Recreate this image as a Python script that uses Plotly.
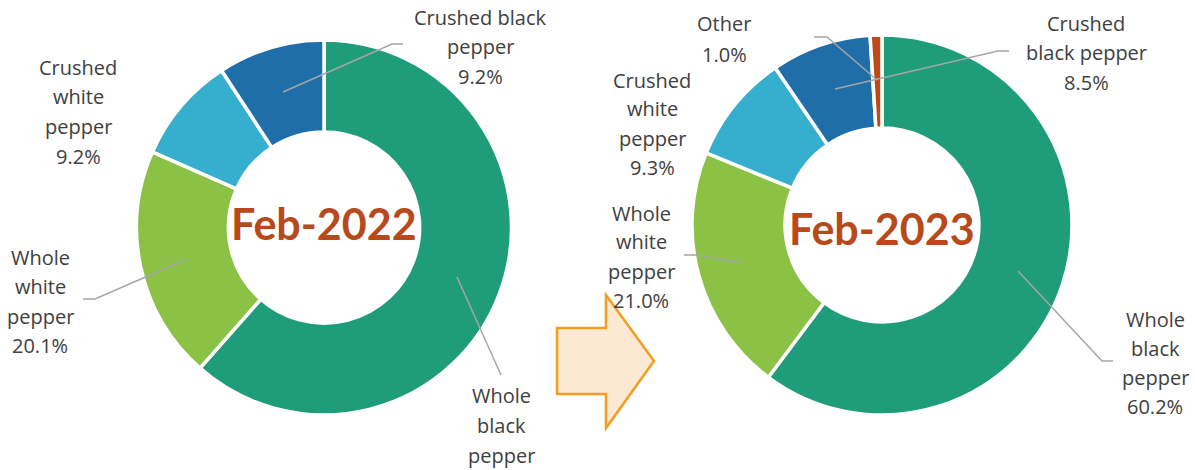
import plotly.graph_objects as go

W, H = 1195, 470

# ---- data ----
categories_2022 = ["Whole black pepper", "Whole white pepper", "Crushed white pepper", "Crushed black pepper"]
values_2022 = [61.5, 20.1, 9.2, 9.2]
categories_2023 = ["Whole black pepper", "Whole white pepper", "Crushed white pepper", "Crushed black pepper", "Other"]
values_2023 = [60.2, 21.0, 9.3, 8.5, 1.0]
titles = ["Feb-2022", "Feb-2023"]

colors = {
    "Whole black pepper": "#1F9C7A",
    "Whole white pepper": "#8BC145",
    "Crushed white pepper": "#36AECE",
    "Crushed black pepper": "#1F6EAA",
    "Other": "#BE4A1A",
}

# label wrapping (text) per chart
wrap_2022 = {
    "Whole black pepper": ["Whole", "black", "pepper"],
    "Whole white pepper": ["Whole", "white", "pepper"],
    "Crushed white pepper": ["Crushed", "white", "pepper"],
    "Crushed black pepper": ["Crushed black", "pepper"],
}
wrap_2023 = {
    "Whole black pepper": ["Whole", "black", "pepper"],
    "Whole white pepper": ["Whole", "white", "pepper"],
    "Crushed white pepper": ["Crushed", "white", "pepper"],
    "Crushed black pepper": ["Crushed", "black pepper"],
    "Other": ["Other"],
}

# ---- layout geometry (pixels) ----
pie_geo = [  # cx, cy, r
    (324, 227.5, 187.5),
    (882, 225, 190),
]
# label anchor: center x, first-line y, line spacing
label_pos_2022 = {
    "Whole black pepper": (501, 395, 30),
    "Whole white pepper": (40, 257, 29.5),
    "Crushed white pepper": (78, 67, 29.7),
    "Crushed black pepper": (480, 17, 29.5),
}
label_pos_2023 = {
    "Whole black pepper": (1155, 319, 29),
    "Whole white pepper": (641, 213, 29),
    "Crushed white pepper": (652, 80, 29),
    "Crushed black pepper": (1086, 23, 29.5),
    "Other": (724, 24, 30),
}
leaders_2022 = [
    [(283, 92), (392, 44), (403, 44)],
    [(187, 259), (95, 299), (83, 299)],
    [(457, 277), (501, 375)],
]
leaders_2023 = [
    [(877, 80), (827, 37), (814, 37)],
    [(835, 89), (998, 51), (1009, 51)],
    [(1018, 271), (1102, 361), (1113, 361)],
    [(743, 263), (696, 255), (684, 255)],
]
arrow_pts = [(557, 328), (606, 328), (606, 295), (654, 361), (606, 428), (606, 394), (557, 394)]


def px(x):
    return x / W


def py(y):
    return 1 - y / H


fig = go.Figure()
for (cats, vals), (cx, cy, r) in zip([(categories_2022, values_2022), (categories_2023, values_2023)], pie_geo):
    fig.add_trace(go.Pie(
        labels=cats, values=vals,
        sort=False, direction="clockwise", rotation=0,
        hole=0.51,
        marker=dict(colors=[colors[c] for c in cats], line=dict(color="white", width=3.5)),
        textinfo="none", hoverinfo="label+percent",
        showlegend=False,
        domain=dict(x=[px(cx - r), px(cx + r)], y=[py(cy + r), py(cy - r)]),
    ))

annotations = []
shapes = []
label_font = dict(family="Open Sans", size=20, color="#404040")

for cats, vals, wrap, pos in [
    (categories_2022, values_2022, wrap_2022, label_pos_2022),
    (categories_2023, values_2023, wrap_2023, label_pos_2023),
]:
    for c, v in zip(cats, vals):
        lines = wrap[c] + [f"{v:.1f}%"]
        x0, y0, dy = pos[c]
        for i, t in enumerate(lines):
            yy = y0 + i * dy
            if yy + 10 > H:  # the reference crops lines that fall below the canvas
                continue
            annotations.append(dict(
                x=px(x0), y=py(yy), xref="paper", yref="paper",
                text=t, showarrow=False, xanchor="center", yanchor="middle",
                font=label_font,
            ))

for t, (cx, cy, r), dyc in zip(titles, pie_geo, [-4, 3]):
    annotations.append(dict(
        x=px(cx), y=py(cy + dyc), xref="paper", yref="paper",
        text=f"<b>{t}</b>", showarrow=False, xanchor="center", yanchor="middle",
        font=dict(family="Lato", size=43, color="#B8491B"),
    ))

for pts in leaders_2022 + leaders_2023:
    path = "M " + " L ".join(f"{px(x)},{py(y)}" for x, y in pts)
    shapes.append(dict(type="path", xref="paper", yref="paper", path=path,
                       line=dict(color="#A6A6A6", width=1.5)))

arrow_path = "M " + " L ".join(f"{px(x)},{py(y)}" for x, y in arrow_pts) + " Z"
shapes.append(dict(type="path", xref="paper", yref="paper", path=arrow_path,
                   fillcolor="#FCE9D3", line=dict(color="#F29D1E", width=2.5), layer="below"))

fig.update_layout(
    width=W, height=H,
    margin=dict(l=0, r=0, t=0, b=0),
    paper_bgcolor="white", plot_bgcolor="white",
    annotations=annotations, shapes=shapes,
)
fig.write_html("out.html", config={"displayModeBar": False},
               post_script="document.body.style.margin='0px';document.body.style.overflow='hidden';")
